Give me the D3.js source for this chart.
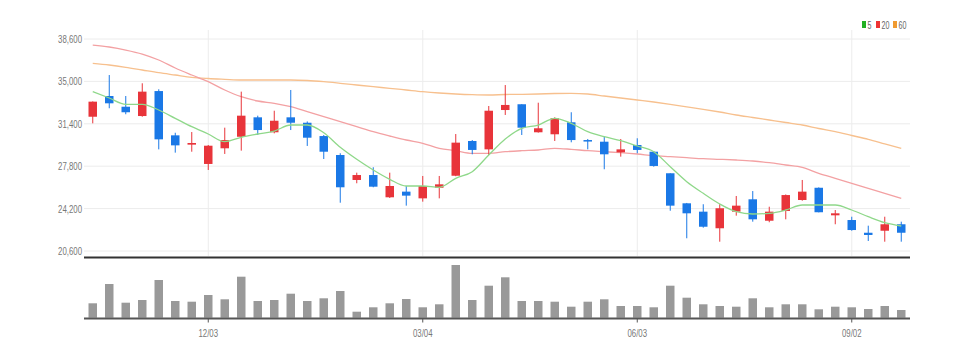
<!DOCTYPE html>
<html><head><meta charset="utf-8">
<script src="https://cdn.jsdelivr.net/npm/d3@7/dist/d3.min.js"></script>
<style>
html,body{margin:0;padding:0;background:#fff;}
svg{display:block;font-family:"Liberation Sans","Arial",sans-serif;}
</style></head>
<body><svg id="c" width="968" height="358"></svg>
<script>
const dates = ["2018-10-15","2018-10-22","2018-10-29","2018-11-05","2018-11-12","2018-11-19","2018-11-26","2018-12-03","2018-12-10","2018-12-17","2018-12-24","2018-12-31",
"2019-01-07","2019-01-14","2019-01-21","2019-01-28","2019-02-04","2019-02-11","2019-02-18","2019-02-25","2019-03-04","2019-03-11","2019-03-18","2019-03-25",
"2019-04-01","2019-04-08","2019-04-15","2019-04-22","2019-04-29","2019-05-06","2019-05-13","2019-05-20","2019-05-27","2019-06-03","2019-06-10","2019-06-17",
"2019-06-24","2019-07-01","2019-07-08","2019-07-15","2019-07-22","2019-07-29","2019-08-05","2019-08-12","2019-08-19","2019-08-26","2019-09-02","2019-09-09",
"2019-09-16","2019-09-23"];
const open  = [32000,33760,32850,32060,34180,30420,29630,27990,29320,30300,31950,30680,31950,31490,30360,28750,26630,27050,25160,25640,25070,25970,26990,29940,29230,32570,33060,30680,30510,31530,30020,29880,28980,29600,29030,27200,24650,23940,22530,23940,24990,23170,24000,24930,25970,23630,23230,22150,22320,22870];
const high  = [33300,35540,33760,34840,34330,30640,30700,29600,31070,34130,32090,32510,34270,31600,30450,28900,27250,27710,27250,26120,26970,26970,30530,30020,32910,34690,33060,33190,31950,32380,30110,30300,30110,30170,29090,27200,24680,24570,24570,25270,25690,24360,25400,26630,26000,24080,23510,22750,23510,23090];
const low   = [31440,32720,32210,32000,29230,28950,29030,27480,28840,29120,30450,30590,30870,29520,28410,24700,26350,26010,25100,24450,24790,25070,26950,28810,28750,32150,30450,30650,29940,29830,29230,27540,28610,28900,27760,24020,21680,22580,21390,23600,23090,23040,23290,24870,23880,22870,22320,21450,21390,21390];
const close = [33280,33140,32380,34130,30080,29570,29770,29540,30020,32090,30870,31660,31490,30220,29030,26010,27050,26060,26120,25300,26120,26260,29800,29180,32510,33000,31070,31020,31870,30020,29940,28810,29230,29180,27820,24450,23800,22660,24230,24450,23290,23940,25350,25640,23890,23800,22380,21960,22870,22150];
const volume = [288000,674000,300000,354000,754000,334000,320000,454000,368000,820000,334000,354000,480000,334000,388000,534000,120000,208000,288000,374000,208000,268000,1054000,354000,640000,808000,334000,334000,320000,220000,320000,368000,234000,234000,208000,640000,400000,268000,234000,220000,388000,208000,268000,268000,168000,220000,208000,174000,234000,154000];
const ma5  = [34125,33590,33055,33055,32571,31866,31153,30533,29880,30253,30533,30788,31297,31297,30644,29404,28385,27477,26687,26119,26119,26008,26772,27333,28750,30109,31017,31297,31866,31442,30729,30304,29964,29515,29031,27757,26484,25499,24590,23937,23741,23801,24081,24505,24505,24505,24081,23512,23003,22723];
const ma20 = [38089,37920,37665,37325,36816,36137,35542,34974,34269,33700,33335,33140,32851,32427,32002,31578,31153,30729,30364,30024,29744,29319,29115,28895,28895,29031,29115,29175,29319,29234,29115,29031,28946,28835,28691,28606,28521,28436,28385,28326,28241,28097,27901,27706,27197,26772,26348,25923,25499,25074];
const ma60 = [36536,36391,36196,35967,35738,35542,35347,35245,35177,35118,35118,35118,35118,35075,34974,34838,34693,34549,34413,34269,34125,34014,33929,33870,33844,33887,33904,33929,33972,33989,33929,33760,33590,33420,33250,33055,32843,32630,32401,32146,31934,31722,31510,31297,31000,30729,30406,30083,29701,29319];
const priceTicks = [20600,24200,27800,31400,35000,38600];
const xTickDates = ["2018-12-03","2019-03-04","2019-06-03","2019-09-02"];
const maNames = ["5","20","60"];

const svg = d3.select("#c");
const x = d3.scaleBand().domain(dates).range([84.5, 909.5]).paddingInner(0).paddingOuter(0);
const cx = d => x(d) + x.bandwidth()/2;
const y = d3.scaleLinear().domain([20600, 38600]).range([251, 39]);
const yv = d3.scaleLinear().domain([0, d3.max(volume)]).range([317.7, 265]);
const up = "#e8343a", down = "#1a78e6";
const gridC = "#ececec";
const SX = 0.68;
function narrowText(g, tx, ty, str, size, anchor, fill) {
  g.append("g").attr("transform", `translate(${tx},${ty}) scale(${SX},1)`)
    .append("text").attr("x", 0).attr("y", 0).attr("font-size", size)
    .attr("text-anchor", anchor).attr("fill", fill).text(str);
}

// horizontal grid
svg.append("g").selectAll("line").data(priceTicks).join("line")
  .attr("x1", 84).attr("x2", 910).attr("y1", d => y(d)).attr("y2", d => y(d))
  .attr("stroke", gridC).attr("stroke-width", 1);
// vertical grid
svg.append("g").selectAll("line").data(xTickDates).join("line")
  .attr("x1", d => cx(d)).attr("x2", d => cx(d)).attr("y1", 30).attr("y2", 256)
  .attr("stroke", gridC).attr("stroke-width", 1);

// y labels
const fmt = d3.format(",");
const yl = svg.append("g");
priceTicks.forEach(v => narrowText(yl, 82, y(v) + 4, fmt(v), 11.5, "end", "#777"));

// MA lines
const line = arr => d3.line().x((d,i) => cx(dates[i])).y(d => y(d)).curve(d3.curveMonotoneX)(arr);
svg.append("path").attr("d", line(ma60)).attr("fill","none").attr("stroke","#f7c08e").attr("stroke-width",1.3);
svg.append("path").attr("d", line(ma20)).attr("fill","none").attr("stroke","#f3a1a3").attr("stroke-width",1.3);

// candles
const cg = svg.append("g");
dates.forEach((d,i) => {
  const isUp = close[i] >= open[i];
  const col = isUp ? up : down;
  cg.append("line").attr("x1", cx(d)).attr("x2", cx(d)).attr("y1", y(high[i])).attr("y2", y(low[i]))
    .attr("stroke", col).attr("stroke-width", 1);
  const top = y(Math.max(open[i], close[i])), bot = y(Math.min(open[i], close[i]));
  cg.append("rect").attr("x", cx(d) - 4.25).attr("width", 8.5)
    .attr("y", top).attr("height", Math.max(1.5, bot - top)).attr("fill", col);
});
svg.append("path").attr("d", line(ma5)).attr("fill","none").attr("stroke","#8fd88a").attr("stroke-width",1.3);

// separator line
svg.append("line").attr("x1", 84).attr("x2", 910).attr("y1", 257.5).attr("y2", 257.5).attr("stroke", "#333").attr("stroke-width", 2);

// volume
svg.append("g").selectAll("rect").data(volume).join("rect")
  .attr("x", (v,i) => cx(dates[i]) - 4.25).attr("width", 8.5)
  .attr("y", v => yv(v)).attr("height", v => yv(0) - yv(v))
  .attr("fill", "#999");
svg.append("line").attr("x1", 84).attr("x2", 910).attr("y1", 318.5).attr("y2", 318.5).attr("stroke", "#555").attr("stroke-width", 2);

// x axis ticks and labels
const xAxis = d3.axisBottom(x).tickValues(xTickDates).tickSize(4).tickFormat("");
const gx = svg.append("g").attr("transform", "translate(0,318.5)").call(xAxis);
gx.select(".domain").remove();
gx.selectAll("line").attr("stroke", "#555");
const xl = svg.append("g");
xTickDates.forEach(d => narrowText(xl, cx(d), 337, d.slice(5,7) + "/" + d.slice(8,10), 11.5, "middle", "#777"));

// legend
const legCols = ["#22b022", "#ee3333", "#f09a30"];
const legX = [862, 876, 893];
const lg = svg.append("g");
maNames.forEach((n,i) => {
  lg.append("rect").attr("x", legX[i]).attr("y", 21).attr("width", 4).attr("height", 7).attr("fill", legCols[i]);
  narrowText(lg, legX[i] + 5.5, 28.5, n, 10.5, "start", "#666");
});
</script></body></html>
